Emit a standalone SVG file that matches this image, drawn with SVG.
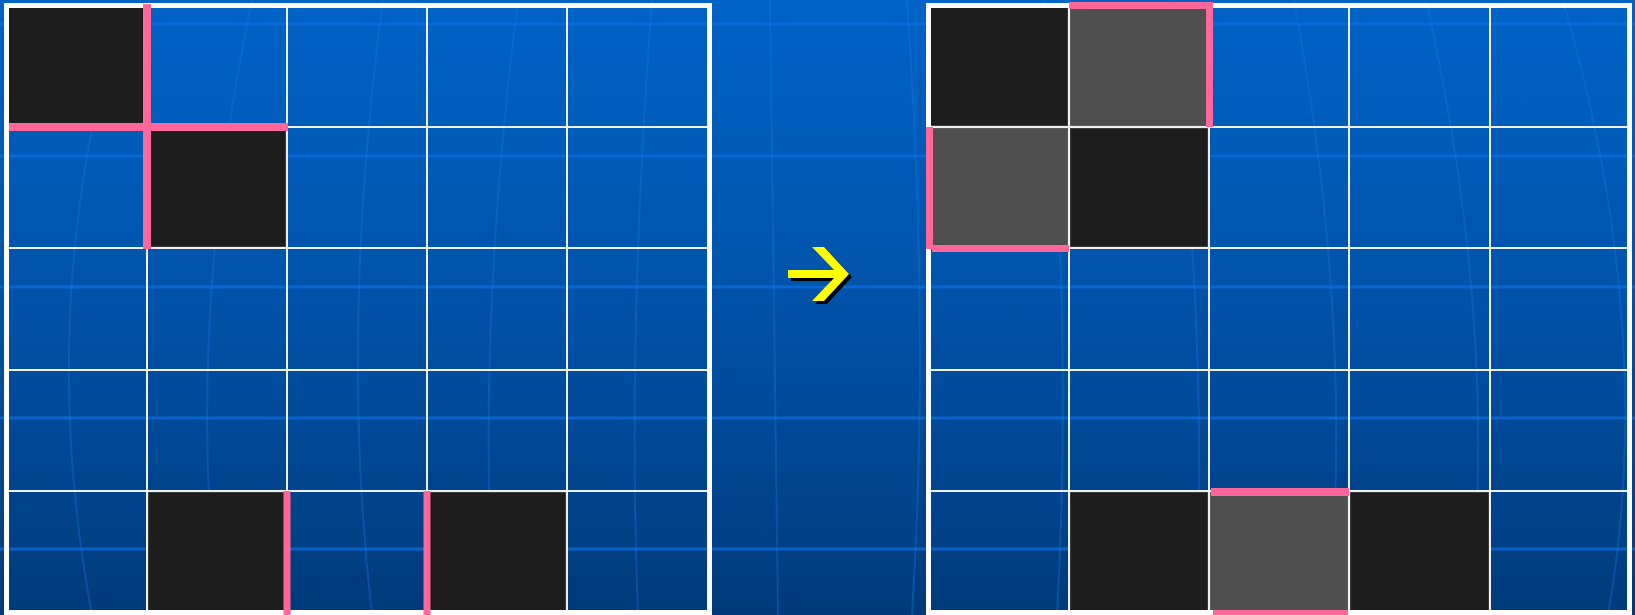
<svg xmlns="http://www.w3.org/2000/svg" width="1635" height="615" viewBox="0 0 1635 615">
<defs>
<linearGradient id="bg" x1="0" y1="0" x2="0" y2="1">
<stop offset="0" stop-color="#0063c6"/>
<stop offset="0.5" stop-color="#0052a8"/>
<stop offset="1" stop-color="#003a7a"/>
</linearGradient>
<style>
.hl{stroke:#0a6fe0;stroke-width:3;opacity:0.75;fill:none}
.mer{stroke:#1a78e6;stroke-width:2;opacity:0.35;fill:none}
.blk{fill:#1d1d1d;stroke:#5c5c5c;stroke-width:1}
.gry{fill:#4f4f4f;stroke:#6a6a6a;stroke-width:1}
.gl{stroke:#f0f0f0;stroke-width:2;fill:none}
.ob{stroke:#ffffff;stroke-width:5;fill:none}
.pk{stroke:#ff6699;stroke-width:8;fill:none;stroke-linecap:butt}
</style>
</defs>
<rect x="0" y="0" width="1635" height="615" fill="url(#bg)"/>
<g id="background-lines">
<line class="hl" x1="0" y1="24" x2="1635" y2="24"/>
<line class="hl" x1="0" y1="156" x2="1635" y2="156"/>
<line class="hl" x1="0" y1="287" x2="1635" y2="287"/>
<line class="hl" x1="0" y1="418" x2="1635" y2="418"/>
<line class="hl" x1="0" y1="549" x2="1635" y2="549"/>
<path class="mer" d="M100 90 Q42 348 92 615"/>
<path class="mer" d="M252 0 Q185 320 218 615"/>
<path class="mer" d="M383 0 Q339 330 372 615"/>
<path class="mer" d="M518 0 Q476 330 494 615"/>
<path class="mer" d="M652 0 Q627 330 638 615"/>
<path class="mer" d="M770 0 Q775 330 778 615"/>
<path class="mer" d="M907 0 Q930 330 912 615"/>
<path class="mer" d="M1045 0 Q1073 330 1057 615"/>
<path class="mer" d="M1170 0 Q1209 330 1196 615"/>
<path class="mer" d="M1294 0 Q1355 330 1328 615"/>
<path class="mer" d="M1426 0 Q1500 330 1469 615"/>
<path class="mer" d="M1563 0 Q1658 330 1608 615"/>
</g>
<g id="left-grid">
<rect class="blk" x="8" y="7" width="138" height="119"/>
<rect class="blk" x="148" y="128" width="138" height="119"/>
<rect class="blk" x="148" y="492" width="138" height="120"/>
<rect class="blk" x="428" y="492" width="138" height="120"/>
<path class="gl" d="M147 6V612M287 6V612M427 6V612M567 6V612M7 127H707M7 248H707M7 370H707M7 491H707"/>
<rect class="ob" x="6.5" y="5.5" width="703" height="607"/>
</g>
<g id="right-grid">
<rect class="blk" x="930" y="7" width="138" height="119"/>
<rect class="gry" x="1070" y="7" width="138" height="119"/>
<rect class="gry" x="930" y="128" width="138" height="119"/>
<rect class="blk" x="1070" y="128" width="138" height="119"/>
<rect class="blk" x="1070" y="492" width="138" height="120"/>
<rect class="gry" x="1210" y="492" width="138" height="120"/>
<rect class="blk" x="1350" y="492" width="139" height="120"/>
<path class="gl" d="M1069 6V612M1209 6V612M1349 6V612M1490 6V612M929 127H1629M929 248H1629M929 370H1629M929 491H1629"/>
<rect class="ob" x="928.5" y="5.5" width="701" height="607"/>
</g>
<g id="connectors">
<line class="pk" x1="147" y1="4" x2="147" y2="249"/>
<line class="pk" x1="9" y1="127" x2="288" y2="127"/>
<line class="pk" style="stroke-width:7" x1="287" y1="491" x2="287" y2="615"/>
<line class="pk" style="stroke-width:7" x1="427" y1="491" x2="427" y2="615"/>
<line class="pk" style="stroke-width:7" x1="1069" y1="5.5" x2="1210" y2="5.5"/>
<line class="pk" style="stroke-width:7" x1="1209.5" y1="2" x2="1209.5" y2="127"/>
<line class="pk" style="stroke-width:7" x1="929.5" y1="127" x2="929.5" y2="249"/>
<line class="pk" style="stroke-width:7" x1="932" y1="248.5" x2="1069" y2="248.5"/>
<line class="pk" x1="1211" y1="492" x2="1349" y2="492"/>
<line class="pk" style="stroke-width:6" x1="1213" y1="613" x2="1348" y2="613"/>
</g>
<g id="arrow">
<polygon fill="#000000" transform="translate(3,3)" points="788,270 834,270 812,247 824,247 849,274 824,301 812,301 834,278 788,278"/>
<polygon fill="#ffff00" points="788,270 834,270 812,247 824,247 849,274 824,301 812,301 834,278 788,278"/>
</g>
</svg>
